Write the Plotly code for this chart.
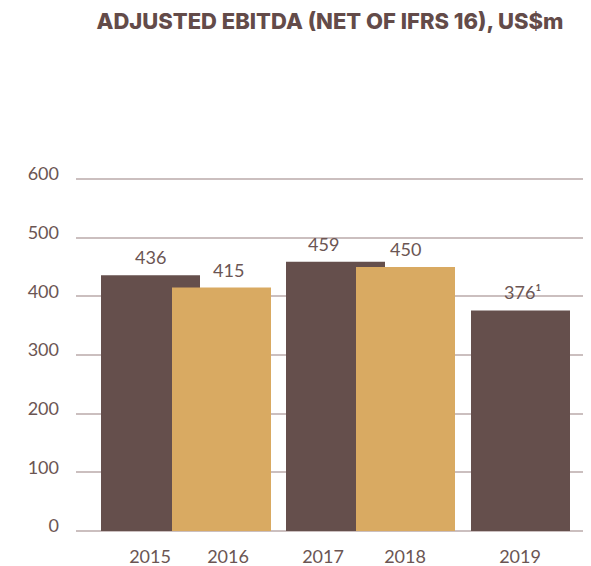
import plotly.graph_objects as go

years = ["2015", "2016", "2017", "2018", "2019"]
values = [436, 415, 459, 450, 376]
value_labels = ["436", "415", "459", "450", "376¹"]
y_ticks = [0, 100, 200, 300, 400, 500, 600]

BROWN = "#654f4c"
GOLD = "#d9aa62"
TEXT = "#6b5553"
GRID = "#cbbfbf"

colors = [BROWN, GOLD, BROWN, GOLD, BROWN]
# layout: bar centers and label centers in plot-pixel units
bar_x = [74.5, 145.5, 259.5, 329.5, 444.5]
label_x = [74, 152, 247, 329, 446]
bar_w = 99

fig = go.Figure()
for i in range(len(years)):
    fig.add_trace(go.Bar(x=[bar_x[i]], y=[values[i]], width=bar_w,
                         marker=dict(color=colors[i], line=dict(width=0)),
                         hoverinfo="skip", showlegend=False))

for i in range(len(years)):
    fig.add_annotation(x=label_x[i], y=values[i], text=value_labels[i],
                       showarrow=False, yanchor="bottom", yshift=5,
                       font=dict(family="Lato", size=18, color=TEXT))

fig.update_layout(
    width=583, height=558,
    margin=dict(l=68, r=0, t=167, b=35),
    paper_bgcolor="white", plot_bgcolor="white",
    barmode="overlay",
    title=dict(text="ADJUSTED EBITDA (NET OF IFRS 16), US$m",
               x=322 / 583, xanchor="center", y=1 - 13 / 558, yanchor="middle",
               font=dict(family="Inter", size=22, color="#634b49", weight=800)),
    xaxis=dict(range=[0, 515], tickvals=label_x[:4] + [444], ticktext=years,
               showgrid=False, zeroline=False, showline=False, ticks="",
               tickfont=dict(family="Lato", size=18, color=TEXT),
               ticklabelstandoff=13, fixedrange=True, automargin=False),
    yaxis=dict(range=[0, 607], tickvals=y_ticks,
               showgrid=True, gridcolor=GRID, gridwidth=1.5,
               zeroline=True, zerolinecolor=GRID, zerolinewidth=1.5,
               showline=False, ticks="",
               tickfont=dict(family="Lato", size=18, color=TEXT),
               ticklabelstandoff=16, ticklabelshift=-5, fixedrange=True,
               automargin=False),
)

fig.write_html("out.html")
